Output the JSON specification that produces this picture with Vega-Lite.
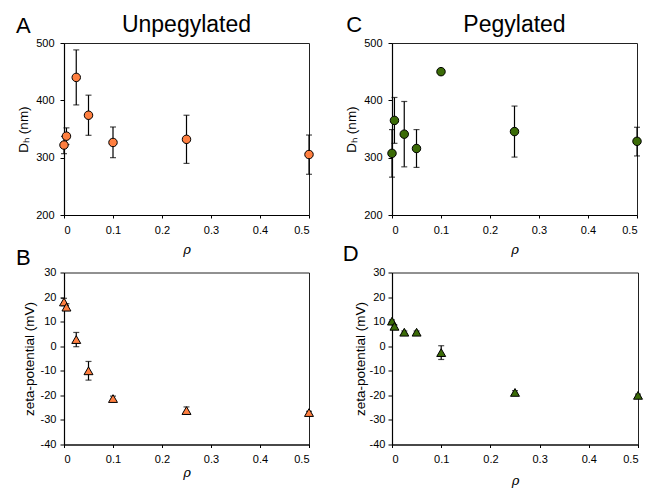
{
  "$schema": "https://vega.github.io/schema/vega-lite/v6.json",
  "background": "white",
  "padding": {"left": 15, "top": 13, "right": 0, "bottom": 0},
  "config": {
    "view": {"stroke": "#222", "strokeWidth": 1},
    "axis": {"grid": false, "domainColor": "#000", "tickColor": "#000", "labelColor": "#000", "titleColor": "#000", "labelFont": "Liberation Sans", "labelFontSize": 11, "titleFont": "Liberation Sans", "titleFontSize": 13.5, "titleFontWeight": "normal", "tickSize": 4, "domainWidth": 1.2, "labelOverlap": false}
  },
  "datasets": {
    "unpeg_dh": [
      {"rho": 0, "val": 322, "lo": 307, "hi": 337},
      {"rho": 0.005, "val": 337.5, "lo": 323, "hi": 352},
      {"rho": 0.025, "val": 440, "lo": 392, "hi": 488},
      {"rho": 0.05, "val": 374, "lo": 339, "hi": 409},
      {"rho": 0.1, "val": 326.5, "lo": 300, "hi": 353.5},
      {"rho": 0.25, "val": 332, "lo": 290, "hi": 374},
      {"rho": 0.5, "val": 305.5, "lo": 271, "hi": 339.5}
    ],
    "peg_dh": [
      {"rho": 0, "val": 307.5, "lo": 266, "hi": 349},
      {"rho": 0.005, "val": 365, "lo": 325, "hi": 405},
      {"rho": 0.025, "val": 341, "lo": 284, "hi": 398},
      {"rho": 0.05, "val": 316, "lo": 283, "hi": 349},
      {"rho": 0.1, "val": 450, "lo": 448, "hi": 452},
      {"rho": 0.25, "val": 345.5, "lo": 301, "hi": 390},
      {"rho": 0.5, "val": 328.5, "lo": 303, "hi": 353}
    ],
    "unpeg_zeta": [
      {"rho": 0, "val": 18, "lo": 16.5, "hi": 19.5},
      {"rho": 0.005, "val": 15.9, "lo": 14.5, "hi": 17.3},
      {"rho": 0.025, "val": 2.7, "lo": -0.2, "hi": 5.6},
      {"rho": 0.05, "val": -10, "lo": -13.8, "hi": -6.2},
      {"rho": 0.1, "val": -21.3, "lo": -22.3, "hi": -20.3},
      {"rho": 0.25, "val": -26.2, "lo": -27.7, "hi": -24.7},
      {"rho": 0.5, "val": -27, "lo": -27.5, "hi": -26.5}
    ],
    "peg_zeta": [
      {"rho": 0, "val": 10.2, "lo": 9.7, "hi": 10.7},
      {"rho": 0.005, "val": 8.1, "lo": 7.6, "hi": 8.6},
      {"rho": 0.025, "val": 5.7, "lo": 5.2, "hi": 6.2},
      {"rho": 0.05, "val": 5.7, "lo": 5.2, "hi": 6.2},
      {"rho": 0.1, "val": -2.6, "lo": -5.4, "hi": 0.2},
      {"rho": 0.25, "val": -18.8, "lo": -19.5, "hi": -18.1},
      {"rho": 0.5, "val": -20, "lo": -20.5, "hi": -19.5}
    ],
    "labA": [{"t": "A"}],
    "labB": [{"t": "B"}],
    "labC": [{"t": "C"}],
    "labD": [{"t": "D"}],
    "titA": [{"t": "Unpegylated"}],
    "titC": [{"t": "Pegylated"}]
  },
  "bounds": "flush",
  "columns": 2,
  "spacing": {"row": 57.5, "column": 83},
  "concat": [
    {
      "width": 245, "height": 172,
      "layer": [
        {
          "data": {"name": "unpeg_dh"},
          "mark": {"type": "rule", "color": "#000", "strokeWidth": 1.2},
          "encoding": {
            "x": {"field": "rho", "type": "quantitative", "scale": {"domain": [0, 0.5], "nice": false, "zero": false},
                  "axis": {"values": [0, 0.1, 0.2, 0.3, 0.4, 0.5], "labelExpr": "datum.value == 0 ? '0' : format(datum.value, '.1f')", "tickSize": 3, "labelPadding": 6, "title": "ρ", "titleFont": "DejaVu Serif", "titleFontStyle": "italic", "titleFontSize": 13, "titlePadding": 8}},
            "y": {"field": "lo", "type": "quantitative", "scale": {"domain": [200, 500], "nice": false, "zero": false},
                  "axis": {"values": [200, 300, 400, 500], "labelExpr": "'' + datum.value", "title": "Dₕ (nm)", "labelPadding": 6, "titlePadding": 5}},
            "y2": {"field": "hi"}
          }
        },
        {
          "data": {"name": "unpeg_dh"},
          "mark": {"type": "tick", "orient": "horizontal", "size": 6, "thickness": 1.2, "color": "#000"},
          "encoding": {"x": {"field": "rho", "type": "quantitative"}, "y": {"field": "lo", "type": "quantitative", "axis": {"values": [200, 300, 400, 500], "labelExpr": "'' + datum.value", "title": "Dₕ (nm)", "labelPadding": 6, "titlePadding": 5}}}
        },
        {
          "data": {"name": "unpeg_dh"},
          "mark": {"type": "tick", "orient": "horizontal", "size": 6, "thickness": 1.2, "color": "#000"},
          "encoding": {"x": {"field": "rho", "type": "quantitative"}, "y": {"field": "hi", "type": "quantitative", "axis": {"values": [200, 300, 400, 500], "labelExpr": "'' + datum.value", "title": "Dₕ (nm)", "labelPadding": 6, "titlePadding": 5}}}
        },
        {
          "data": {"name": "unpeg_dh"},
          "mark": {"type": "point", "shape": "circle", "filled": true, "fill": "#ff7f40", "stroke": "#000", "strokeWidth": 1, "size": 72, "opacity": 1},
          "encoding": {"x": {"field": "rho", "type": "quantitative"}, "y": {"field": "val", "type": "quantitative", "axis": {"values": [200, 300, 400, 500], "labelExpr": "'' + datum.value", "title": "Dₕ (nm)", "labelPadding": 6, "titlePadding": 5}}}
        },
        {
          "data": {"name": "labA"},
          "mark": {"type": "text", "font": "Liberation Sans", "fontSize": 22, "align": "left", "baseline": "alphabetic", "color": "#000"},
          "encoding": {"x": {"datum": -0.098, "type": "quantitative"}, "y": {"datum": 518, "type": "quantitative", "axis": {"values": [200, 300, 400, 500], "labelExpr": "'' + datum.value", "title": "Dₕ (nm)", "labelPadding": 6, "titlePadding": 5}}, "text": {"field": "t"}}
        },
        {
          "data": {"name": "titA"},
          "mark": {"type": "text", "font": "Liberation Sans", "fontSize": 23, "align": "center", "baseline": "alphabetic", "color": "#000"},
          "encoding": {"x": {"datum": 0.25, "type": "quantitative"}, "y": {"datum": 519, "type": "quantitative", "axis": {"values": [200, 300, 400, 500], "labelExpr": "'' + datum.value", "title": "Dₕ (nm)", "labelPadding": 6, "titlePadding": 5}}, "text": {"field": "t"}}
        }
      ]
    },
    {
      "width": 245, "height": 172,
      "layer": [
        {
          "data": {"name": "peg_dh"},
          "mark": {"type": "rule", "color": "#000", "strokeWidth": 1.2},
          "encoding": {
            "x": {"field": "rho", "type": "quantitative", "scale": {"domain": [0, 0.5], "nice": false, "zero": false},
                  "axis": {"values": [0, 0.1, 0.2, 0.3, 0.4, 0.5], "labelExpr": "datum.value == 0 ? '0' : format(datum.value, '.1f')", "tickSize": 3, "labelPadding": 6, "title": "ρ", "titleFont": "DejaVu Serif", "titleFontStyle": "italic", "titleFontSize": 13, "titlePadding": 8}},
            "y": {"field": "lo", "type": "quantitative", "scale": {"domain": [200, 500], "nice": false, "zero": false},
                  "axis": {"values": [200, 300, 400, 500], "labelExpr": "'' + datum.value", "title": "Dₕ (nm)", "labelPadding": 6, "titlePadding": 5}},
            "y2": {"field": "hi"}
          }
        },
        {
          "data": {"name": "peg_dh"},
          "mark": {"type": "tick", "orient": "horizontal", "size": 6, "thickness": 1.2, "color": "#000"},
          "encoding": {"x": {"field": "rho", "type": "quantitative"}, "y": {"field": "lo", "type": "quantitative", "axis": {"values": [200, 300, 400, 500], "labelExpr": "'' + datum.value", "title": "Dₕ (nm)", "labelPadding": 6, "titlePadding": 5}}}
        },
        {
          "data": {"name": "peg_dh"},
          "mark": {"type": "tick", "orient": "horizontal", "size": 6, "thickness": 1.2, "color": "#000"},
          "encoding": {"x": {"field": "rho", "type": "quantitative"}, "y": {"field": "hi", "type": "quantitative", "axis": {"values": [200, 300, 400, 500], "labelExpr": "'' + datum.value", "title": "Dₕ (nm)", "labelPadding": 6, "titlePadding": 5}}}
        },
        {
          "data": {"name": "peg_dh"},
          "mark": {"type": "point", "shape": "circle", "filled": true, "fill": "#3b6b07", "stroke": "#000", "strokeWidth": 1, "size": 72, "opacity": 1},
          "encoding": {"x": {"field": "rho", "type": "quantitative"}, "y": {"field": "val", "type": "quantitative", "axis": {"values": [200, 300, 400, 500], "labelExpr": "'' + datum.value", "title": "Dₕ (nm)", "labelPadding": 6, "titlePadding": 5}}}
        },
        {
          "data": {"name": "labC"},
          "mark": {"type": "text", "font": "Liberation Sans", "fontSize": 22, "align": "left", "baseline": "alphabetic", "color": "#000"},
          "encoding": {"x": {"datum": -0.0935, "type": "quantitative"}, "y": {"datum": 520, "type": "quantitative", "axis": {"values": [200, 300, 400, 500], "labelExpr": "'' + datum.value", "title": "Dₕ (nm)", "labelPadding": 6, "titlePadding": 5}}, "text": {"field": "t"}}
        },
        {
          "data": {"name": "titC"},
          "mark": {"type": "text", "font": "Liberation Sans", "fontSize": 23, "align": "center", "baseline": "alphabetic", "color": "#000"},
          "encoding": {"x": {"datum": 0.25, "type": "quantitative"}, "y": {"datum": 519, "type": "quantitative", "axis": {"values": [200, 300, 400, 500], "labelExpr": "'' + datum.value", "title": "Dₕ (nm)", "labelPadding": 6, "titlePadding": 5}}, "text": {"field": "t"}}
        }
      ]
    },
    {
      "width": 245, "height": 172,
      "layer": [
        {
          "data": {"name": "unpeg_zeta"},
          "mark": {"type": "rule", "color": "#000", "strokeWidth": 1.2},
          "encoding": {
            "x": {"field": "rho", "type": "quantitative", "scale": {"domain": [0, 0.5], "nice": false, "zero": false},
                  "axis": {"values": [0, 0.1, 0.2, 0.3, 0.4, 0.5], "labelExpr": "datum.value == 0 ? '0' : format(datum.value, '.1f')", "tickSize": 3, "labelPadding": 6, "title": "ρ", "titleFont": "DejaVu Serif", "titleFontStyle": "italic", "titleFontSize": 13, "titlePadding": 2}},
            "y": {"field": "lo", "type": "quantitative", "scale": {"domain": [-40, 30], "nice": false, "zero": false},
                  "axis": {"values": [-40, -30, -20, -10, 0, 10, 20, 30], "labelExpr": "'' + datum.value", "title": "zeta-potential (mV)", "labelPadding": 4, "titlePadding": 4}},
            "y2": {"field": "hi"}
          }
        },
        {
          "data": {"name": "unpeg_zeta"},
          "mark": {"type": "tick", "orient": "horizontal", "size": 6, "thickness": 1.2, "color": "#000"},
          "encoding": {"x": {"field": "rho", "type": "quantitative"}, "y": {"field": "lo", "type": "quantitative", "axis": {"values": [-40, -30, -20, -10, 0, 10, 20, 30], "labelExpr": "'' + datum.value", "title": "zeta-potential (mV)", "labelPadding": 4, "titlePadding": 4}}}
        },
        {
          "data": {"name": "unpeg_zeta"},
          "mark": {"type": "tick", "orient": "horizontal", "size": 6, "thickness": 1.2, "color": "#000"},
          "encoding": {"x": {"field": "rho", "type": "quantitative"}, "y": {"field": "hi", "type": "quantitative", "axis": {"values": [-40, -30, -20, -10, 0, 10, 20, 30], "labelExpr": "'' + datum.value", "title": "zeta-potential (mV)", "labelPadding": 4, "titlePadding": 4}}}
        },
        {
          "data": {"name": "unpeg_zeta"},
          "mark": {"type": "point", "shape": "triangle-up", "filled": true, "fill": "#ff7f40", "stroke": "#000", "strokeWidth": 1, "size": 80, "opacity": 1},
          "encoding": {"x": {"field": "rho", "type": "quantitative"}, "y": {"field": "val", "type": "quantitative", "axis": {"values": [-40, -30, -20, -10, 0, 10, 20, 30], "labelExpr": "'' + datum.value", "title": "zeta-potential (mV)", "labelPadding": 4, "titlePadding": 4}}}
        },
        {
          "data": {"name": "labB"},
          "mark": {"type": "text", "font": "Liberation Sans", "fontSize": 22, "align": "left", "baseline": "alphabetic", "color": "#000"},
          "encoding": {"x": {"datum": -0.098, "type": "quantitative"}, "y": {"datum": 33, "type": "quantitative", "axis": {"values": [-40, -30, -20, -10, 0, 10, 20, 30], "labelExpr": "'' + datum.value", "title": "zeta-potential (mV)", "labelPadding": 4, "titlePadding": 4}}, "text": {"field": "t"}}
        }
      ]
    },
    {
      "width": 246, "height": 172,
      "layer": [
        {
          "data": {"name": "peg_zeta"},
          "mark": {"type": "rule", "color": "#000", "strokeWidth": 1.2},
          "encoding": {
            "x": {"field": "rho", "type": "quantitative", "scale": {"domain": [0, 0.5], "nice": false, "zero": false},
                  "axis": {"values": [0, 0.1, 0.2, 0.3, 0.4, 0.5], "labelExpr": "datum.value == 0 ? '0' : format(datum.value, '.1f')", "tickSize": 3, "labelPadding": 6, "title": "ρ", "titleFont": "DejaVu Serif", "titleFontStyle": "italic", "titleFontSize": 13, "titlePadding": 10}},
            "y": {"field": "lo", "type": "quantitative", "scale": {"domain": [-40, 30], "nice": false, "zero": false},
                  "axis": {"values": [-40, -30, -20, -10, 0, 10, 20, 30], "labelExpr": "'' + datum.value", "title": "zeta-potential (mV)", "labelPadding": 3, "titlePadding": 2}},
            "y2": {"field": "hi"}
          }
        },
        {
          "data": {"name": "peg_zeta"},
          "mark": {"type": "tick", "orient": "horizontal", "size": 6, "thickness": 1.2, "color": "#000"},
          "encoding": {"x": {"field": "rho", "type": "quantitative"}, "y": {"field": "lo", "type": "quantitative", "axis": {"values": [-40, -30, -20, -10, 0, 10, 20, 30], "labelExpr": "'' + datum.value", "title": "zeta-potential (mV)", "labelPadding": 3, "titlePadding": 2}}}
        },
        {
          "data": {"name": "peg_zeta"},
          "mark": {"type": "tick", "orient": "horizontal", "size": 6, "thickness": 1.2, "color": "#000"},
          "encoding": {"x": {"field": "rho", "type": "quantitative"}, "y": {"field": "hi", "type": "quantitative", "axis": {"values": [-40, -30, -20, -10, 0, 10, 20, 30], "labelExpr": "'' + datum.value", "title": "zeta-potential (mV)", "labelPadding": 3, "titlePadding": 2}}}
        },
        {
          "data": {"name": "peg_zeta"},
          "mark": {"type": "point", "shape": "triangle-up", "filled": true, "fill": "#3b6b07", "stroke": "#000", "strokeWidth": 1, "size": 80, "opacity": 1},
          "encoding": {"x": {"field": "rho", "type": "quantitative"}, "y": {"field": "val", "type": "quantitative", "axis": {"values": [-40, -30, -20, -10, 0, 10, 20, 30], "labelExpr": "'' + datum.value", "title": "zeta-potential (mV)", "labelPadding": 3, "titlePadding": 2}}}
        },
        {
          "data": {"name": "labD"},
          "mark": {"type": "text", "font": "Liberation Sans", "fontSize": 22, "align": "left", "baseline": "alphabetic", "color": "#000"},
          "encoding": {"x": {"datum": -0.1, "type": "quantitative"}, "y": {"datum": 34.5, "type": "quantitative", "axis": {"values": [-40, -30, -20, -10, 0, 10, 20, 30], "labelExpr": "'' + datum.value", "title": "zeta-potential (mV)", "labelPadding": 3, "titlePadding": 2}}, "text": {"field": "t"}}
        }
      ]
    }
  ]
}
